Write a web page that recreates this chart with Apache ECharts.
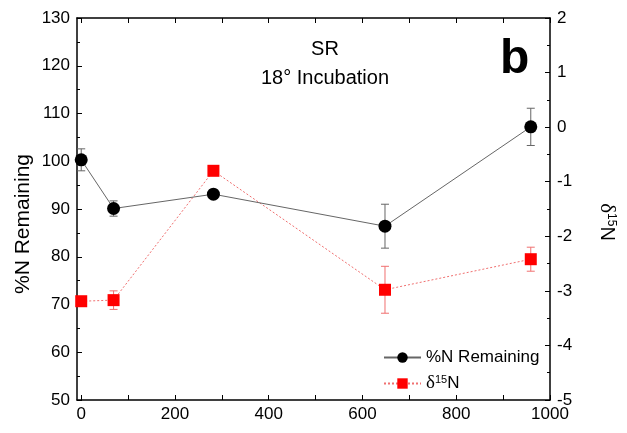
<!DOCTYPE html>
<html>
<head>
<meta charset="utf-8">
<script src="https://cdn.jsdelivr.net/npm/echarts@6/dist/echarts.min.js"></script>
<style>
	html, body { margin: 0; padding: 0; background: #fff; }
	#main { width: 627px; height: 433px; }
</style>
</head>
<body>
<div id="main"></div>
<script>
	// incubation time (days)
	var days = [0, 69, 282, 648, 959];
	// %N remaining, with error
	var nRemaining = [100.3, 90.1, 93.1, 86.4, 107.2];
	var nRemainingErr = [2.3, 1.6, 0.4, 4.6, 3.9];
	// delta 15N, with error
	var d15N = [-3.19, -3.17, -0.80, -2.98, -2.42];
	var d15NErr = [0.04, 0.17, 0.04, 0.43, 0.22];

	var xLabels = [0, 200, 400, 600, 800, 1000];
	var xTicks = [0, 100, 200, 300, 400, 500, 600, 700, 800, 900, 1000];

	var font = 'Liberation Sans';

	var pairs = function(xs, ys) {
		return xs.map(function(x, i) { return [x, ys[i]]; });
	};
	var errData = function(xs, ys, es) {
		return xs.map(function(x, i) { return [x, ys[i] - es[i], ys[i] + es[i]]; });
	};

	var errRender = function(color) {
		return function(params, api) {
			var x = api.value(0);
			var lo = api.coord([x, api.value(1)]);
			var hi = api.coord([x, api.value(2)]);
			var w = 4;
			var st = { stroke: color, lineWidth: 1 };
			return {
				type: 'group',
				children: [
					{ type: 'line', shape: { x1: lo[0], y1: lo[1], x2: hi[0], y2: hi[1] }, style: st },
					{ type: 'line', shape: { x1: lo[0] - w, y1: lo[1], x2: lo[0] + w, y2: lo[1] }, style: st },
					{ type: 'line', shape: { x1: hi[0] - w, y1: hi[1], x2: hi[0] + w, y2: hi[1] }, style: st }
				]
			};
		};
	};

	// legend: δ15N
	var richLegend = {
		a: { fontFamily: font, fontSize: 17, color: '#000' },
		d: { fontFamily: 'Liberation Serif', fontSize: 19, color: '#000' },
		sup: { fontFamily: font, fontSize: 11, color: '#000', verticalAlign: 'top', padding: [0, 0, 8, 0] }
	};
	// right axis title: δ15N
	var richAxis = {
		a: { fontFamily: font, fontSize: 20, fill: '#000' },
		d: { fontFamily: 'Liberation Serif', fontSize: 21, fill: '#000' },
		sup: { fontFamily: font, fontSize: 12, fill: '#000', verticalAlign: 'top', padding: [0, 0, 9, 0] }
	};

	var chart = echarts.init(document.getElementById('main'));
	var option = {
		animation: false,
		backgroundColor: '#fff',
		textStyle: { fontFamily: font },
		title: {
			text: 'SR\n18° Incubation',
			left: 320,
			top: 30,
			textAlign: 'center',
			textStyle: { fontFamily: font, fontSize: 20, fontWeight: 'normal', color: '#000', lineHeight: 29 }
		},
		graphic: [{
			type: 'text',
			left: 500,
			top: 36,
			style: { text: 'b', fontFamily: font, fontSize: 48, fontWeight: 'bold', fill: '#000' }
		}, {
			type: 'text',
			x: 23,
			y: 224,
			rotation: Math.PI / 2,
			style: { text: '%N Remaining', fontFamily: font, fontSize: 21, fill: '#000', align: 'center', verticalAlign: 'middle' }
		}, {
			type: 'text',
			x: 607,
			y: 222,
			rotation: -Math.PI / 2,
			style: { text: '{d|δ}{sup|15}{a|N}', rich: richAxis, align: 'center', verticalAlign: 'middle' }
		}],
		grid: { left: 77, right: 77, top: 18, bottom: 33 },
		legend: {
			orient: 'vertical',
			left: 378,
			top: 344,
			itemWidth: 37,
			itemHeight: 13,
			itemGap: 8,
			data: ['%N Remaining', 'δ15N'],
			textStyle: { fontFamily: font, fontSize: 17, color: '#000', rich: richLegend },
			formatter: function(name) {
				return name === 'δ15N' ? '{d|δ}{sup|15}{a|N}' : name;
			}
		},
		xAxis: [{
			type: 'value',
			min: -9,
			max: 1000,
			position: 'bottom',
			axisLine: { onZero: false, lineStyle: { color: '#000', width: 1.5 } },
			axisTick: { inside: true, length: 5, customValues: xTicks, lineStyle: { color: '#000' } },
			axisLabel: {
				customValues: xLabels, color: '#000', fontSize: 17, margin: 6, fontFamily: font,
				formatter: function(v) { return String(v); }
			},
			splitLine: { show: false }
		}, {
			type: 'value',
			min: -9,
			max: 1000,
			position: 'top',
			axisLine: { onZero: false, lineStyle: { color: '#000', width: 1.5 } },
			axisTick: { inside: true, length: 5, customValues: xTicks, lineStyle: { color: '#000' } },
			axisLabel: { show: false },
			splitLine: { show: false }
		}],
		yAxis: [{
			type: 'value',
			min: 50,
			max: 130,
			interval: 10,
			axisLine: { show: true, onZero: false, lineStyle: { color: '#000', width: 1.5 } },
			axisTick: { inside: true, length: 5, lineStyle: { color: '#000' } },
			minorTick: { show: true, splitNumber: 2, length: 3, lineStyle: { color: '#000' } },
			axisLabel: { color: '#000', fontSize: 17, margin: 7, fontFamily: font },
			splitLine: { show: false }
		}, {
			type: 'value',
			min: -5,
			max: 2,
			interval: 1,
			position: 'right',
			axisLine: { show: true, onZero: false, lineStyle: { color: '#000', width: 1.5 } },
			axisTick: { inside: true, length: 5, lineStyle: { color: '#000' } },
			minorTick: { show: true, splitNumber: 2, length: 3, lineStyle: { color: '#000' } },
			axisLabel: { color: '#000', fontSize: 17, margin: 7, fontFamily: font },
			splitLine: { show: false }
		}],
		series: [{
			name: 'nErr',
			type: 'custom',
			xAxisIndex: 0,
			yAxisIndex: 0,
			renderItem: errRender('#666'),
			data: errData(days, nRemaining, nRemainingErr),
			z: 1
		}, {
			name: 'dErr',
			type: 'custom',
			xAxisIndex: 0,
			yAxisIndex: 1,
			renderItem: errRender('#f07070'),
			data: errData(days, d15N, d15NErr),
			z: 1
		}, {
			name: '%N Remaining',
			type: 'line',
			xAxisIndex: 0,
			yAxisIndex: 0,
			data: pairs(days, nRemaining),
			symbol: 'circle',
			symbolSize: 13,
			itemStyle: { color: '#000' },
			lineStyle: { color: '#666', width: 1 },
			z: 3
		}, {
			name: 'δ15N',
			type: 'line',
			xAxisIndex: 0,
			yAxisIndex: 1,
			data: pairs(days, d15N),
			symbol: 'rect',
			symbolSize: 12,
			itemStyle: { color: '#ff0000' },
			lineStyle: { color: '#f07070', width: 1, type: [2, 2] },
			z: 2
		}]
	};
	chart.setOption(option, true);
</script>
</body>
</html>
